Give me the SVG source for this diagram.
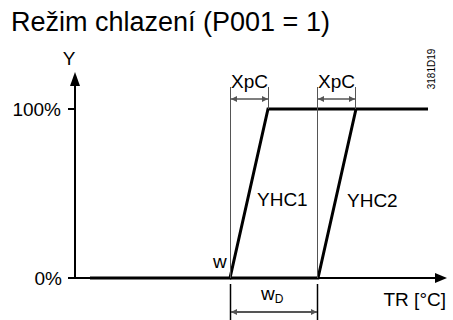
<svg xmlns="http://www.w3.org/2000/svg" width="453" height="320" viewBox="0 0 453 320">
<style>
text{font-family:"Liberation Sans",Arial,sans-serif;fill:#000}
.lbl{font-size:19px}
.thick{stroke:#000;stroke-width:3;fill:none}
.axis{stroke:#000;stroke-width:2;fill:none}
.dim{stroke:#555;stroke-width:1;fill:none}
.dimA{stroke:#555;stroke-width:1.3;fill:none;marker-start:url(#ah);marker-end:url(#ah)}
</style>
<defs>
<marker id="ah" viewBox="0 0 10 10" refX="10" refY="5" markerWidth="7" markerHeight="6" markerUnits="userSpaceOnUse" orient="auto-start-reverse">
<path d="M0,0 L10,5 L0,10 Z" fill="#555"/>
</marker>
</defs>
<rect width="453" height="320" fill="#fff"/>
<text x="11" y="31" font-size="27">Režim chlazení (P001 = 1)</text>
<text x="435" y="69" font-size="10" text-anchor="middle" transform="rotate(-90 435 69)">3181D19</text>
<g id="axes">
<line class="axis" x1="75" y1="84" x2="75" y2="279"/>
<polygon points="75,72 70,86 80,86" fill="#000"/>
<line class="axis" x1="68" y1="278" x2="437" y2="278"/>
<polygon points="447,278 435,273 435,283" fill="#000"/>
<line class="axis" x1="68" y1="109" x2="75" y2="109"/>
<text class="lbl" x="69" y="65" text-anchor="middle">Y</text>
<text class="lbl" x="61" y="116" text-anchor="end">100%</text>
<text class="lbl" x="62" y="285" text-anchor="end">0%</text>
<text class="lbl" x="446" y="306" text-anchor="end">TR [°C]</text>
</g>
<g id="curve">
<polyline class="thick" points="90,278 230,278 268,109 428,109"/>
<polyline class="thick" points="230,278 318,278 356,109"/>
<text class="lbl" x="257" y="206">YHC1</text>
<text class="lbl" x="347" y="207">YHC2</text>
<text class="lbl" x="213" y="268">w</text>
</g>
<g id="connectors">
<line class="dim" x1="230.5" y1="87" x2="230.5" y2="278"/>
<line class="dim" x1="268.5" y1="87" x2="268.5" y2="109"/>
<line class="dim" x1="317.5" y1="87" x2="317.5" y2="278"/>
<line class="dim" x1="355.5" y1="87" x2="355.5" y2="109"/>
<line class="dimA" x1="231" y1="99" x2="268" y2="99"/>
<line class="dimA" x1="318" y1="99" x2="355" y2="99"/>
<line class="axis" x1="230.5" y1="284" x2="230.5" y2="320" style="stroke-width:1.5"/>
<line class="axis" x1="317.5" y1="284" x2="317.5" y2="320" style="stroke-width:1.5"/>
<line class="dimA" x1="231" y1="312" x2="317" y2="312" style="stroke-width:2"/>
<text class="lbl" x="249.5" y="88" text-anchor="middle">XpC</text>
<text class="lbl" x="336.5" y="88" text-anchor="middle">XpC</text>
<text x="261" y="300"><tspan class="lbl">w</tspan><tspan font-size="12" dy="3">D</tspan></text>
</g>
</svg>
